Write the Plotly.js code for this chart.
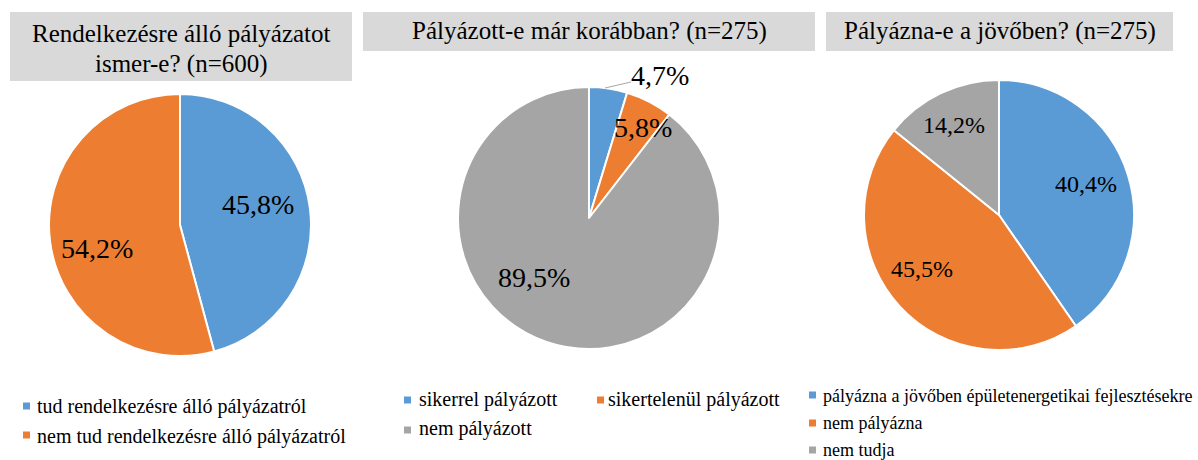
<!DOCTYPE html>
<html>
<head>
<meta charset="utf-8">
<script src="https://cdn.plot.ly/plotly-3.0.1.min.js"></script>
<style>html,body{margin:0;padding:0;background:#fff;}#chart{width:1198px;height:460px;}</style>
</head>
<body>
<div id="chart"></div>
<script>
// ---- data ----
const chart1Title = ['Rendelkezésre álló pályázatot', 'ismer-e? (n=600)'];
const chart1Labels = ['tud rendelkezésre álló pályázatról', 'nem tud rendelkezésre álló pályázatról'];
const chart1Values = [45.8, 54.2];

const chart2Title = ['Pályázott-e már korábban? (n=275)'];
const chart2Labels = ['sikerrel pályázott', 'sikertelenül pályázott', 'nem pályázott'];
const chart2Values = [4.7, 5.8, 89.5];

const chart3Title = ['Pályázna-e a jövőben? (n=275)'];
const chart3Labels = ['pályázna a jövőben épületenergetikai fejlesztésekre', 'nem pályázna', 'nem tudja'];
const chart3Values = [40.4, 45.5, 14.2];

const sliceColors = ['#5b9bd5', '#ed7d31', '#a5a5a5'];

// ---- layout (pixel positions) ----
const W = 1198, H = 460;
const X = p => p / W;
const Y = p => 1 - p / H;
const FONT = '"Liberation Serif"';

const charts = [
  { title: chart1Title, labels: chart1Labels, values: chart1Values,
    dom: [49, 311, 94, 356],
    box: [10, 352, 12, 81], titleY: [33.5, 63.5],
    labelFont: 28, labelPos: [[257.5, 204.6], [97, 248.6]],
    legendFont: 20,
    legendPos: [[23, 406, 36, 406], [23, 435, 36, 436]] },
  { title: chart2Title, labels: chart2Labels, values: chart2Values,
    dom: [458, 720, 87, 349],
    box: [363, 815, 12, 51], titleY: [31.5],
    labelFont: 28, labelPos: [[660, 75.6], [642.5, 127.6], [534, 277.6]],
    legendFont: 20,
    legendPos: [[404, 400, 418, 399], [597, 400, 607, 399], [404, 430, 418, 428]] },
  { title: chart3Title, labels: chart3Labels, values: chart3Values,
    dom: [864, 1134, 80, 350],
    box: [826, 1173, 12, 51], titleY: [31.5],
    labelFont: 24, labelPos: [[1085.5, 184], [921.5, 269], [953.5, 125]],
    legendFont: 18,
    legendPos: [[809, 395, 822, 396], [809, 423, 822, 423], [809, 450, 822, 450]] }
];

const fmt = v => v.toFixed(1).replace('.', ',') + '%';

const traces = [];
const annotations = [];
const shapes = [];

charts.forEach(c => {
  traces.push({
    type: 'pie',
    labels: c.labels,
    values: c.values,
    sort: false,
    direction: 'clockwise',
    rotation: 0,
    textinfo: 'none',
    hoverinfo: 'label+percent',
    showlegend: false,
    marker: { colors: sliceColors.slice(0, c.values.length), line: { color: '#ffffff', width: 2 } },
    domain: { x: [X(c.dom[0]), X(c.dom[1])], y: [Y(c.dom[3]), Y(c.dom[2])] }
  });
  // title box
  shapes.push({ type: 'rect', xref: 'paper', yref: 'paper',
    x0: X(c.box[0]), x1: X(c.box[1]), y0: Y(c.box[3]), y1: Y(c.box[2]),
    fillcolor: '#d9d9d9', line: { width: 0 }, layer: 'below' });
  c.title.forEach((t, i) => {
    annotations.push({ xref: 'paper', yref: 'paper', x: X((c.box[0] + c.box[1]) / 2), y: Y(c.titleY[i]),
      xanchor: 'center', yanchor: 'middle', showarrow: false, borderpad: 0,
      text: t, font: { family: FONT, size: 25, color: '#000' } });
  });
  // data labels
  c.values.forEach((v, i) => {
    annotations.push({ xref: 'paper', yref: 'paper', x: X(c.labelPos[i][0]), y: Y(c.labelPos[i][1]),
      xanchor: 'center', yanchor: 'middle', showarrow: false, borderpad: 0,
      text: fmt(v), font: { family: FONT, size: c.labelFont, color: '#000' } });
  });
  // legend
  c.labels.forEach((l, i) => {
    const p = c.legendPos[i];
    shapes.push({ type: 'rect', xref: 'paper', yref: 'paper',
      x0: X(p[0]), x1: X(p[0] + 7), y0: Y(p[1] + 3.5), y1: Y(p[1] - 3.5),
      fillcolor: sliceColors[i], line: { width: 0 } });
    annotations.push({ xref: 'paper', yref: 'paper', x: X(p[2]), y: Y(p[3]),
      xanchor: 'left', yanchor: 'middle', showarrow: false, borderpad: 0,
      text: l, font: { family: FONT, size: c.legendFont, color: '#000' } });
  });
});

// leader line for the small slice label
shapes.push({ type: 'line', xref: 'paper', yref: 'paper',
  x0: X(605), y0: Y(88), x1: X(631), y1: Y(82), line: { color: '#a6a6a6', width: 1 } });

const layout = {
  width: W, height: H,
  margin: { l: 0, r: 0, t: 0, b: 0 },
  paper_bgcolor: '#ffffff',
  plot_bgcolor: '#ffffff',
  font: { family: FONT },
  showlegend: false,
  shapes: shapes,
  annotations: annotations
};

Plotly.newPlot('chart', traces, layout, { displayModeBar: false });
</script>
</body>
</html>
